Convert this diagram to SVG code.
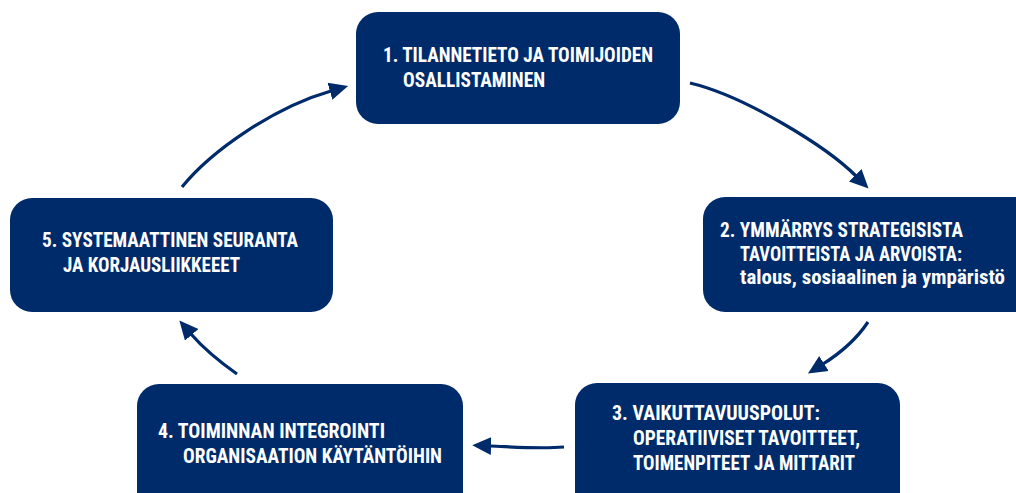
<svg xmlns="http://www.w3.org/2000/svg" width="1016" height="493" viewBox="0 0 1016 493">
<style>
.box{fill:#002b6b;}
.t{fill:#ffffff;font-family:"Liberation Sans Narrow","Roboto Condensed","Liberation Sans",Arial,sans-serif;font-weight:bold;font-size:20.5px;}
.c{fill:none;stroke:#002b6b;stroke-width:3.2;}
</style>
<defs>
<marker id="ah" markerUnits="userSpaceOnUse" markerWidth="20" markerHeight="20" refX="1" refY="8" orient="auto" viewBox="0 0 18 16">
<path d="M0,0 L17,8 L0,16 Z" fill="#002b6b"/>
</marker>
</defs>
<g id="connectors">
<path class="c" marker-end="url(#ah)" d="M690,83 C745,96 827,147 856,176"/>
<path class="c" marker-end="url(#ah)" d="M868,322 C858,337 842,352 823,364"/>
<path class="c" marker-end="url(#ah)" d="M564,447 C540,449 515,447 490,446"/>
<path class="c" marker-end="url(#ah)" d="M237,374 C220,362 204,349 191,334"/>
<path class="c" marker-end="url(#ah)" d="M182,187 C212,150 275,107 331,91"/>
</g>
<g id="node1">
<rect class="box" x="356" y="12" width="324" height="112" rx="22"/>
<text class="t" x="383" y="62" textLength="270" lengthAdjust="spacingAndGlyphs">1. TILANNETIETO JA TOIMIJOIDEN</text>
<text class="t" x="403" y="87" textLength="142" lengthAdjust="spacingAndGlyphs">OSALLISTAMINEN</text>
</g>
<g id="node2">
<rect class="box" x="703" y="197" width="340" height="115" rx="22"/>
<text class="t" x="720" y="237" textLength="243" lengthAdjust="spacingAndGlyphs">2. YMMÄRRYS STRATEGISISTA</text>
<text class="t" x="740" y="261" textLength="222" lengthAdjust="spacingAndGlyphs">TAVOITTEISTA JA ARVOISTA:</text>
<text class="t" x="740" y="284" textLength="265" lengthAdjust="spacingAndGlyphs">talous, sosiaalinen ja ympäristö</text>
</g>
<g id="node3">
<rect class="box" x="575" y="383" width="325" height="140" rx="22"/>
<text class="t" x="612" y="420" textLength="208" lengthAdjust="spacingAndGlyphs">3. VAIKUTTAVUUSPOLUT:</text>
<text class="t" x="633" y="445" textLength="227" lengthAdjust="spacingAndGlyphs">OPERATIIVISET TAVOITTEET,</text>
<text class="t" x="633" y="470" textLength="222" lengthAdjust="spacingAndGlyphs">TOIMENPITEET JA MITTARIT</text>
</g>
<g id="node4">
<rect class="box" x="137" y="384" width="326" height="140" rx="22"/>
<text class="t" x="158" y="438" textLength="227" lengthAdjust="spacingAndGlyphs">4. TOIMINNAN INTEGROINTI</text>
<text class="t" x="183" y="463" textLength="259" lengthAdjust="spacingAndGlyphs">ORGANISAATION KÄYTÄNTÖIHIN</text>
</g>
<g id="node5">
<rect class="box" x="10" y="198" width="323" height="114" rx="22"/>
<text class="t" x="42" y="247" textLength="256" lengthAdjust="spacingAndGlyphs">5. SYSTEMAATTINEN SEURANTA</text>
<text class="t" x="63" y="272" textLength="177" lengthAdjust="spacingAndGlyphs">JA KORJAUSLIIKKEEET</text>
</g>
</svg>
